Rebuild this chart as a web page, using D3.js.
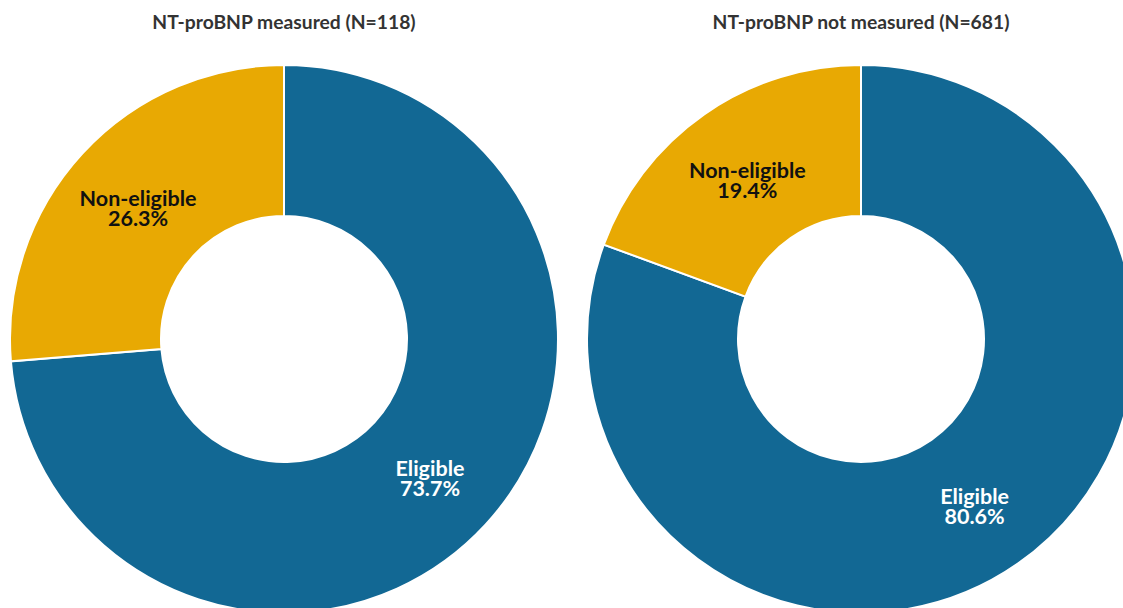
<!DOCTYPE html>
<html>
<head>
<meta charset="utf-8">
<script src="https://cdn.jsdelivr.net/npm/d3@7"></script>
<style>
html,body{margin:0;padding:0;background:#fff;overflow:hidden;}
svg{display:block;}
</style>
</head>
<body>
<svg id="chart" width="1123" height="608"></svg>
<script>
const titles = ["NT-proBNP measured (N=118)", "NT-proBNP not measured (N=681)"];
const categories = ["Eligible", "Non-eligible"];
const measuredValues = [73.7, 26.3];
const notMeasuredValues = [80.6, 19.4];
const colors = ["#126894", "#e8a903"];
const labelColors = ["#ffffff", "#111111"];

const svg = d3.select("#chart");
const outerR = 274, innerR = 123;
const centers = [[284, 339], [861, 339]];
const font = "Lato, 'Open Sans', sans-serif";

const pie = d3.pie().sort(null).value(d => d.value);
const arc = d3.arc().innerRadius(innerR).outerRadius(outerR);

[measuredValues, notMeasuredValues].forEach((vals, i) => {
  const data = categories.map((c, k) => ({cat: c, value: vals[k], k}));
  const g = svg.append("g").attr("transform", `translate(${centers[i][0]},${centers[i][1]})`);
  const arcs = pie(data);
  g.selectAll("path").data(arcs).join("path")
    .attr("d", arc)
    .attr("fill", d => colors[d.data.k])
    .attr("stroke", "#fff")
    .attr("stroke-width", 2);
  const lg = g.selectAll("g.lab").data(arcs).join("g")
    .attr("class", "lab")
    .attr("transform", d => `translate(${arc.centroid(d)})`)
    .attr("text-anchor", "middle")
    .attr("font-family", font)
    .attr("font-weight", "bold")
    .attr("font-size", 21.5)
    .attr("fill", d => labelColors[d.data.k]);
  lg.append("text").attr("x", 0).attr("y", 2).text(d => d.data.cat);
  lg.append("text").attr("x", 0).attr("y", 22).text(d => d3.format(".1f")(d.data.value) + "%");

  svg.append("text")
    .attr("x", centers[i][0]).attr("y", 29)
    .attr("text-anchor", "middle")
    .attr("font-family", font)
    .attr("font-weight", "bold")
    .attr("font-size", 19.3)
    .attr("fill", "#333333")
    .text(titles[i]);
});
</script>
</body>
</html>
